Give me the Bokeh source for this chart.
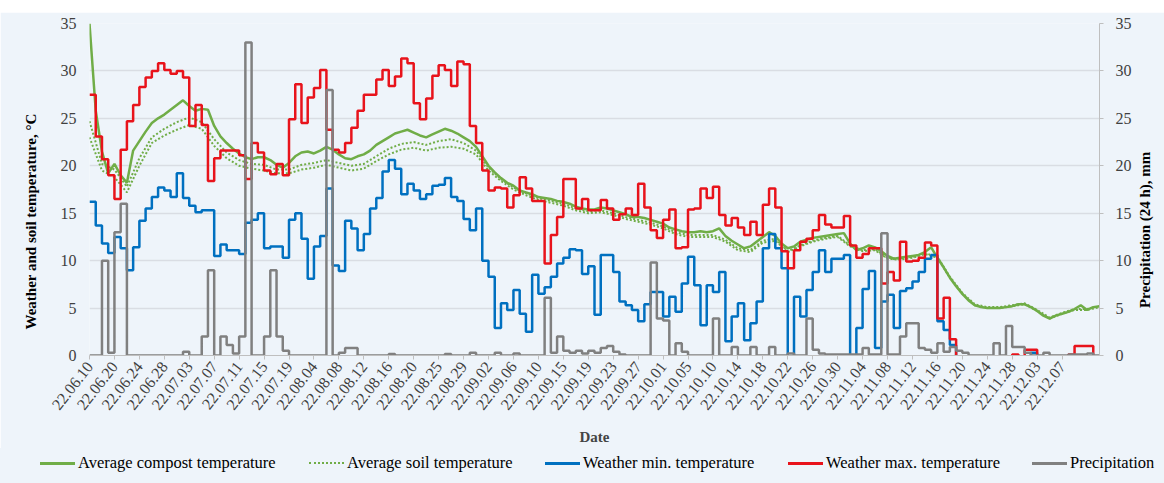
import math
import numpy as np
from bokeh.plotting import figure
from bokeh.layouts import column
from bokeh.models import Range1d, LinearAxis, FixedTicker, Title, Div
from bokeh.embed import file_html
from bokeh.resources import INLINE

date_labels = ["22.06.10", "22.06.20", "22.06.24", "22.06.28", "22.07.03", "22.07.07", "22.07.11",
               "22.07.15", "22.07.19", "22.08.04", "22.08.08", "22.08.12", "22.08.16", "22.08.20",
               "22.08.25", "22.08.29", "22.09.02", "22.09.06", "22.09.10", "22.09.15", "22.09.19",
               "22.09.23", "22.09.27", "22.10.01", "22.10.05", "22.10.10", "22.10.14", "22.10.18",
               "22.10.22", "22.10.26", "22.10.30", "22.11.04", "22.11.08", "22.11.12", "22.11.16",
               "22.11.20", "22.11.24", "22.11.28", "22.12.03", "22.12.07"]

compost_temp = [35.0, 25.8, 21.5, 19.2, 20.2, 19.0, 18.2, 21.6, 22.6, 23.6,
                24.5, 25.0, 25.4, 25.9, 26.4, 26.9, 26.3, 25.8, 26.0, 25.9,
                24.2, 23.1, 22.4, 21.8, 21.3, 20.9, 20.7, 20.9, 20.9, 20.6,
                20.1, 19.8, 20.3, 21.0, 21.4, 21.5, 21.3, 21.6, 22.0, 21.7,
                21.2, 20.8, 20.7, 21.0, 21.2, 21.6, 22.2, 22.6, 23.0, 23.4,
                23.6, 23.8, 23.5, 23.2, 23.0, 23.3, 23.6, 23.9, 23.7, 23.4,
                23.0, 22.6, 22.0, 21.0, 20.0, 19.3, 18.7, 18.2, 17.9, 17.4,
                17.2, 17.0, 16.7, 16.6, 16.5, 16.3, 16.2, 16.0, 15.7, 15.5,
                15.4, 15.4, 15.6, 15.5, 15.3, 15.1, 14.9, 14.6, 14.6, 14.5,
                14.3, 14.1, 13.9, 13.5, 13.3, 13.1, 13.0, 13.0, 13.1, 13.0,
                13.1, 13.4, 12.6, 12.1, 11.7, 11.3, 11.5, 12.0, 12.5, 13.0,
                12.6, 11.8, 11.3, 11.5, 12.0, 12.2, 12.4, 12.5, 12.6, 12.7,
                12.8, 12.9, 11.8, 11.1, 11.3, 11.6, 11.4, 11.0, 10.5, 10.2,
                10.3, 10.4, 10.5, 10.6, 10.9, 11.4, 10.3, 9.3, 8.2, 7.3,
                6.5, 5.8, 5.3, 5.1, 5.0, 5.0, 5.0, 5.1, 5.2, 5.4,
                5.4, 5.1, 4.7, 4.2, 3.9, 4.2, 4.4, 4.6, 4.9, 5.3,
                4.8, 5.1, 5.2]

soil_temp_upper = [24.7, 20.2, 19.6, 17.8, 20.8, 23.0, 23.9, 24.6, 25.1, 24.6,
                   22.8, 21.4, 20.6, 20.2, 20.1, 19.6, 19.6, 20.1, 20.3, 20.6,
                   20.3, 20.0, 20.2, 21.0, 21.8, 22.3, 22.5, 22.2, 22.6, 22.8,
                   22.4, 21.6, 19.8, 18.6, 17.7, 17.1, 16.6, 16.3, 16.0, 15.5,
                   15.2, 15.3, 15.0, 14.6, 14.3, 14.0, 13.6, 13.0, 12.7, 12.7,
                   12.7, 12.2, 11.3, 11.1, 12.1, 12.3, 11.0, 11.6, 12.1, 12.4,
                   12.6, 11.6, 11.1, 11.2, 10.3, 10.2, 10.4, 10.8, 10.4, 8.3,
                   6.6, 5.4, 5.1, 5.1, 5.3, 5.5, 4.8, 4.0, 4.5, 4.9,
                   4.9, 5.2]
soil_temp_lower = [23.0, 19.5, 18.8, 17.2, 20.0, 22.4, 23.2, 23.8, 24.3, 23.9,
                   22.1, 20.8, 20.0, 19.7, 19.5, 19.2, 19.2, 19.6, 19.8, 20.1,
                   19.8, 19.5, 19.7, 20.5, 21.2, 21.7, 21.9, 21.6, 21.9, 22.0,
                   21.8, 21.2, 19.5, 18.4, 17.5, 16.9, 16.4, 16.1, 15.8, 15.3,
                   15.0, 15.1, 14.8, 14.4, 14.1, 13.8, 13.4, 12.8, 12.5, 12.5,
                   12.5, 12.0, 11.1, 10.9, 11.9, 12.1, 10.9, 11.5, 12.0, 12.3,
                   12.5, 11.5, 11.0, 11.1, 10.2, 10.1, 10.3, 10.7, 10.3, 8.2,
                   6.5, 5.3, 5.0, 5.0, 5.2, 5.4, 4.7, 3.9, 4.4, 4.8,
                   4.8, 5.1]

weather_min = [16.2, 13.7, 11.8, 10.8, 12.5, 11.3, 9.0, 11.4, 14.2, 15.5,
               16.7, 17.7, 17.4, 16.7, 19.2, 16.6, 15.8, 15.1, 15.3, 15.3,
               10.5, 11.7, 11.1, 11.1, 10.7, 14.0, 14.3, 15.0, 11.3, 11.5,
               11.5, 10.3, 14.3, 15.0, 12.3, 8.1, 11.5, 12.6, 17.6, 9.5,
               8.9, 14.2, 13.4, 11.1, 12.8, 15.5, 16.6, 19.4, 20.6, 19.7,
               17.0, 18.1, 17.4, 16.5, 17.0, 17.9, 18.0, 18.7, 16.7, 16.3,
               14.4, 13.2, 15.5, 10.0, 8.3, 2.9, 5.5, 4.8, 6.9, 4.4,
               2.5, 8.5, 6.5, 7.2, 8.3, 9.7, 10.3, 11.2, 11.1, 8.6,
               9.4, 4.3, 10.6, 10.6, 8.8, 5.7, 5.3, 4.8, 3.6, 5.4,
               6.7, 6.7, 4.1, 6.2, 4.6, 7.6, 10.4, 7.4, 3.2, 7.4,
               6.7, 8.8, 1.5, 4.1, 5.5, 1.6, 3.4, 5.7, 11.3, 12.8,
               11.3, 9.2, -2.0, 6.2, 4.1, 6.9, 8.8, 11.1, 8.8, 10.2,
               10.2, 10.6, -2.0, 2.9, 7.0, 8.9, 0.8, 5.7, 6.4, 2.9,
               6.8, 7.1, 7.8, 8.8, 10.2, 10.6, 3.6, 2.7, 1.1, -4.0,
               -4.0, -4.0, -4.0, -4.0, -4.0, -4.0, -4.0, -4.0, -4.0, -4.0,
               -4.0, 0.3, -4.0, -4.0, -4.0, -4.0, -4.0, -4.0, -4.0, -4.0,
               -4.0, -4.0]

weather_max = [27.5, 23.1, 20.7, 19.0, 16.5, 21.7, 24.7, 26.4, 28.3, 29.3,
               30.0, 30.8, 30.1, 29.7, 30.0, 29.3, 24.2, 26.4, 24.3, 18.4,
               20.8, 21.6, 21.6, 21.6, 21.1, 18.6, 22.4, 21.4, 19.5, 19.1,
               20.2, 19.0, 24.9, 28.6, 24.5, 27.2, 28.2, 30.1, 23.8, 21.7,
               21.4, 22.4, 24.0, 25.8, 27.5, 27.5, 29.1, 30.1, 28.4, 29.4,
               31.3, 30.8, 26.6, 24.9, 27.1, 29.5, 30.6, 30.1, 28.4, 31.0,
               30.7, 24.2, 22.4, 19.5, 17.4, 17.7, 17.6, 15.6, 16.9, 18.8,
               17.6, 16.3, 16.3, 9.7, 12.7, 14.6, 18.6, 18.6, 15.5, 16.5,
               15.3, 15.3, 16.4, 15.5, 14.3, 14.9, 15.5, 14.8, 18.1, 15.6,
               13.2, 12.4, 14.3, 15.4, 11.3, 11.4, 15.4, 15.5, 17.6, 16.6,
               17.8, 14.8, 13.7, 14.5, 13.5, 12.7, 14.1, 12.7, 15.9, 17.6,
               15.6, 11.0, 9.2, 11.1, 12.0, 12.3, 13.2, 14.8, 13.8, 13.5,
               13.5, 14.7, 11.6, 10.3, 10.7, 11.3, 11.3, 7.6, 8.8, 7.9,
               12.0, 9.9, 10.0, 10.3, 11.9, 11.6, 3.9, 6.1, 1.7, -3.0,
               -3.0, -3.0, -3.0, -3.0, -3.0, -3.0, -3.0, -3.0, 0.1, -2.0,
               0.6, 0.6, -3.0, -3.0, -3.0, -3.0, -3.0, 0.1, 1.0, 1.0,
               1.0, -2.0]

precipitation = [0, 0, 10.0, 0.3, 13.0, 16.0, 0, 0, 0, 0,
                 0, 0, 0, 0, 0, 0.4, 0, 0, 2.0, 9.0,
                 0, 2.0, 1.1, 0.2, 2.0, 33.0, 0, 0, 2.0, 9.0,
                 2.0, 0.5, 0, 0, 0, 0, 0, 0, 28.0, 0,
                 0.3, 0.8, 0.8, 0, 0, 0, 0, 0, 0.15, 0,
                 0, 0, 0, 0, 0, 0, 0, 0.15, 0, 0,
                 0, 0.3, 0, 0, 0, 0.3, 0, 0, 0.2, 0,
                 0, 0, 0, 6.1, 0.3, 2.0, 0.5, 0.3, 0.5, 0.2,
                 0.5, 0.3, 0.8, 1.0, 0.4, 0.1, 0, 0, 0, 0,
                 9.8, 3.9, 3.7, 0, 1.3, 0.4, 0, 0, 0, 0,
                 3.9, 0, 0, 0.9, 0, 0, 0.9, 0, 0, 0.9,
                 0, 0, 0.2, 0, 0, 3.9, 0.6, 0.2, 0.1, 0.1,
                 0.1, 0.1, 0.1, 0.1, 0.8, 0.1, 0.1, 12.9, 0.1, 0.1,
                 2.0, 3.4, 3.4, 0.8, 0.6, 0.3, 1.3, 0.4, 0.9, 0.5,
                 0.3, 0, 0, 0, 0, 1.3, 0, 3.1, 0.9, 0.9,
                 0.3, 0, 0, 0.3, 0, 0, 0, 0.1, 0.1, 0.1,
                 0.2, 0]

legend_labels = ["Average compost temperature", "Average soil temperature",
                 "Weather min. temperature", "Weather max. temperature", "Precipitation"]

GREEN = "#70AD47"
BLUE = "#0070C0"
RED = "#E8131B"
GRAY = "#808080"
BG = "#EEF4FA"
FONT = "Liberation Serif"
TICK_COLOR = "#404040"

n_days = len(weather_max)
day_idx = np.arange(n_days + 1)
compost_x = np.arange(len(compost_temp))
soil_x = np.arange(len(soil_temp_upper)) * 2

p = figure(width=1164, height=436, x_range=Range1d(0, n_days), y_range=Range1d(0, 35),
           output_backend="svg", toolbar_location=None,
           min_border_left=89, min_border_right=61, min_border_top=11, min_border_bottom=92)
p.extra_y_ranges = {"prec": Range1d(0, 35)}
p.background_fill_color = BG
p.border_fill_color = BG
p.outline_line_color = None

p.line(compost_x, compost_temp, line_color=GREEN, line_width=2.5)
p.line(soil_x, soil_temp_upper, line_color=GREEN, line_width=2, line_dash="2 2")
p.line(soil_x, soil_temp_lower, line_color=GREEN, line_width=2, line_dash="2 2")
p.step(day_idx, weather_min + [weather_min[-1]], mode="after", line_color=BLUE, line_width=2.5)
p.step(day_idx, weather_max + [weather_max[-1]], mode="after", line_color=RED, line_width=2.5)
p.step(day_idx, precipitation + [precipitation[-1]], mode="after", line_color=GRAY,
       line_width=2.5, y_range_name="prec")

# x axis
xa = p.xaxis[0]
xa.ticker = FixedTicker(ticks=[4 * k for k in range(len(date_labels))])
xa.major_label_overrides = {4 * k: d for k, d in enumerate(date_labels)}
xa.major_label_orientation = 0.91
xa.major_label_text_font = FONT
xa.major_label_text_font_size = "16px"
xa.major_label_text_color = TICK_COLOR
xa.major_label_standoff = 4
xa.axis_label = "Date"
xa.axis_label_text_font = FONT
xa.axis_label_text_font_style = "bold"
xa.axis_label_text_font_size = "15px"
xa.axis_label_standoff = 12
xa.axis_line_color = "#BFBFBF"
xa.major_tick_line_color = "#BFBFBF"
xa.major_tick_out = 4
xa.major_tick_in = 0
xa.minor_tick_line_color = None

# left axis
ya = p.yaxis[0]
ya.ticker = FixedTicker(ticks=[0, 5, 10, 15, 20, 25, 30, 35])
ya.axis_line_color = None
ya.major_tick_line_color = None
ya.major_tick_out = 0
ya.major_tick_in = 0
ya.minor_tick_line_color = None
ya.major_label_standoff = 13

# right axis (ticks)
ra = LinearAxis(y_range_name="prec", ticker=FixedTicker(ticks=[0, 5, 10, 15, 20, 25, 30, 35]))
ra.axis_line_color = "#BFBFBF"
ra.major_tick_line_color = "#BFBFBF"
ra.major_tick_out = 4
ra.major_tick_in = 0
ra.minor_tick_line_color = None
ra.major_label_standoff = 12
p.add_layout(ra, "right")

for ax in (ya, ra):
    ax.major_label_text_font = FONT
    ax.major_label_text_font_size = "16px"
    ax.major_label_text_color = TICK_COLOR

# right axis title, drawn as a single upright label that starts low on the axis
ra_title = LinearAxis(y_range_name="prec", ticker=FixedTicker(ticks=[5]))
ra_title.major_label_overrides = {5: "Precipitation (24 h), mm"}
ra_title.major_label_orientation = math.pi / 2
ra_title.major_label_text_font = FONT
ra_title.major_label_text_font_style = "bold"
ra_title.major_label_text_font_size = "15px"
ra_title.major_label_text_color = "black"
ra_title.major_label_standoff = 11
ra_title.axis_line_color = None
ra_title.major_tick_line_color = None
ra_title.major_tick_out = 0
ra_title.major_tick_in = 0
ra_title.minor_tick_line_color = None
p.add_layout(ra_title, "right")

left_title = Title(text="Weather and soil temperature, \u00b0C", align="left", offset=26,
                   vertical_align="middle", standoff=35, text_font=FONT,
                   text_font_style="bold", text_font_size="15px", text_color="black")
p.add_layout(left_title, "left")

p.xgrid.grid_line_color = None
p.ygrid.grid_line_color = "#D9DDE3"
p.ygrid.grid_line_width = 1.5
p.ygrid.ticker = FixedTicker(ticks=[5, 10, 15, 20, 25, 30, 35])

# white strip above the chart panel
top_strip = Div(text='<div style="width:1164px;height:12px;background:#FFFFFF;"></div>',
                width=1164, height=12, margin=0)

# legend strip below the chart (HTML)
sample_css = ["height:2.5px;background:%s;" % GREEN,
              "height:0;border-top:2.5px dotted %s;" % GREEN,
              "height:2.5px;background:%s;" % BLUE,
              "height:2.5px;background:%s;" % RED,
              "height:2.5px;background:%s;" % GRAY]
sample_left = [40, 309, 545, 788, 1032]
parts = []
for lab, css, x0 in zip(legend_labels, sample_css, sample_left):
    parts.append('<div style="position:absolute;left:%dpx;top:14px;width:35px;%s"></div>' % (x0, css))
    parts.append('<div style="position:absolute;left:%dpx;top:5px;line-height:20px;'
                 'white-space:nowrap;">%s</div>' % (x0 + 38, lab))
legend_html = ('<div style="position:relative;width:1164px;height:35px;background:%s;'
               "font-family:'%s';font-size:16.5px;color:#000;\">%s</div>" % (BG, FONT, "".join(parts)))
legend_div = Div(text=legend_html, width=1164, height=35, margin=0)

layout = column(top_strip, p, legend_div, spacing=0)
open("out.html", "w").write(file_html(layout, INLINE))
